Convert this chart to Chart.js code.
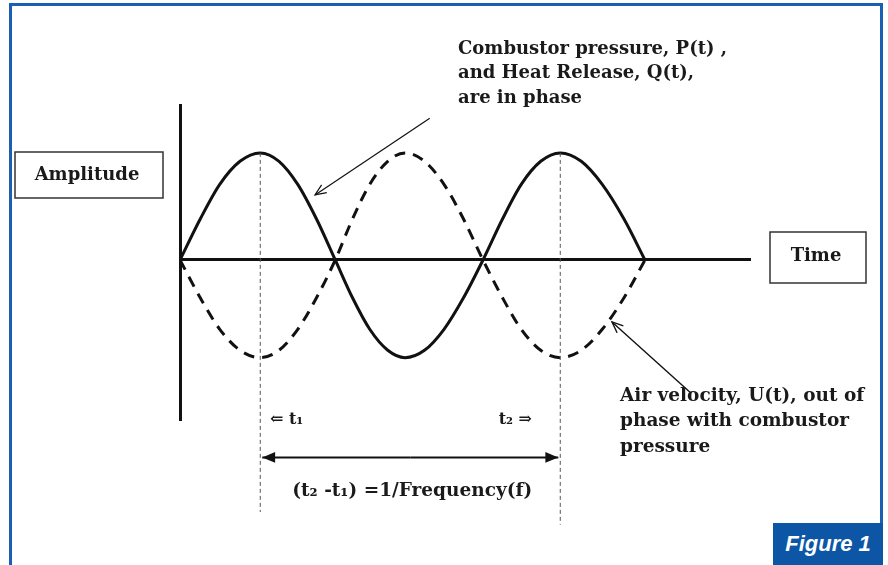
<!DOCTYPE html>
<html>
<head>
<meta charset="utf-8">
<script src="https://cdn.jsdelivr.net/npm/chart.js@4.4.1/dist/chart.umd.min.js"></script>
<style>
    body { margin: 0; background: #fff; }
    #wrap { position: relative; width: 888px; height: 565px; overflow: hidden; }
    #frame {
        position: absolute; left: 9px; top: 3px; width: 868px; height: 580px;
        border: 3px solid #1a5fb4; border-bottom: none;
    }
    #fig {
        position: absolute; left: 773px; top: 523px; width: 110px; height: 42px;
        background: #0d56a6; color: #fff;
        font: italic bold 22px "Liberation Sans", Arial, sans-serif;
        line-height: 42px; text-align: center;
    }
    canvas { position: absolute; left: 0; top: 0; }
</style>
</head>
<body>
<div id="wrap">
    <canvas id="chart" width="888" height="565"></canvas>
    <div id="frame"></div>
    <div id="fig">Figure 1</div>
</div>
<script>
// time in quarter-periods, amplitude normalised
const timeValues = [0, 0.27, 0.53, 0.80, 1.07, 1.32, 1.57, 1.82, 2.07, 2.30, 2.53, 2.77, 3.0,
    3.26, 3.52, 3.78, 4.04, 4.30, 4.55, 4.81, 5.07, 5.35, 5.63, 5.92, 6.2];
const pressureValues = [0, 0.39, 0.72, 0.94, 1.02, 0.94, 0.72, 0.39, 0, -0.36, -0.66, -0.86, -0.93,
    -0.86, -0.66, -0.36, 0, 0.39, 0.72, 0.94, 1.02, 0.94, 0.72, 0.39, 0];
const velocityValues = [0, -0.36, -0.66, -0.86, -0.93, -0.86, -0.66, -0.36, 0, 0.39, 0.72, 0.94, 1.02,
    0.94, 0.72, 0.39, 0, -0.36, -0.66, -0.86, -0.93, -0.86, -0.66, -0.36, 0];
const periodMarks = [1.07, 5.07];   // t1, t2
const seriesLabels = ['Combustor pressure, P(t)', 'Air velocity, U(t)'];
const axisLabels = ['Amplitude', 'Time'];

const SERIF = '"DejaVu Serif", "Liberation Serif", serif';

function toPoints(xs, ys) {
    return xs.map((t, i) => ({ x: t, y: ys[i] }));
}

function arrow(ctx, x1, y1, x2, y2, size, filled) {
    let a = Math.atan2(y2 - y1, x2 - x1);
    ctx.beginPath();
    ctx.moveTo(x1, y1);
    ctx.lineTo(x2, y2);
    ctx.stroke();
    ctx.beginPath();
    ctx.moveTo(x2 - size * Math.cos(a - 0.4), y2 - size * Math.sin(a - 0.4));
    ctx.lineTo(x2, y2);
    ctx.lineTo(x2 - size * Math.cos(a + 0.4), y2 - size * Math.sin(a + 0.4));
    if (filled) {
        ctx.closePath();
        ctx.fill();
    } else {
        ctx.stroke();
    }
}

const annotate = {
    id: 'annotate',
    afterDraw(chart) {
        let ctx = chart.ctx;
        let sx = chart.scales.x, sy = chart.scales.y;
        let px = t => sx.getPixelForValue(t);
        let py = a => sy.getPixelForValue(a);
        ctx.save();

        // dashed period markers
        ctx.strokeStyle = '#555';
        ctx.lineWidth = 1;
        ctx.setLineDash([4, 3]);
        ctx.beginPath();
        ctx.moveTo(px(periodMarks[0]), py(1.02));
        ctx.lineTo(px(periodMarks[0]), py(-2.4));
        ctx.moveTo(px(periodMarks[1]), py(1.02));
        ctx.lineTo(px(periodMarks[1]), py(-2.52));
        ctx.stroke();
        ctx.setLineDash([]);

        // double arrow between t1 and t2
        ctx.strokeStyle = '#111';
        ctx.fillStyle = '#111';
        ctx.lineWidth = 2;
        let ay = py(-1.88);
        let mid = (px(periodMarks[0]) + px(periodMarks[1])) / 2;
        arrow(ctx, mid, ay, px(periodMarks[0]) + 2, ay, 14, true);
        arrow(ctx, mid, ay, px(periodMarks[1]) - 2, ay, 14, true);

        // pointer arrows
        ctx.lineWidth = 1.2;
        arrow(ctx, px(3.33), py(1.35), px(1.8), py(0.62), 12, false);
        ctx.lineWidth = 1.4;
        arrow(ctx, px(6.8), py(-1.26), px(5.76), py(-0.59), 12, false);

        // label boxes
        ctx.strokeStyle = '#333';
        ctx.lineWidth = 1.5;
        ctx.strokeRect(15, 152, 148, 46);
        ctx.strokeRect(770, 232, 96, 51);

        ctx.fillStyle = '#1a1a1a';
        ctx.font = 'bold 18px ' + SERIF;
        ctx.textBaseline = 'middle';
        ctx.textAlign = 'center';
        ctx.fillText(axisLabels[0], 87, 175);
        ctx.fillText(axisLabels[1], 816, 256);

        ctx.textAlign = 'left';
        ctx.font = 'bold 18px ' + SERIF;
        ctx.fillText('Combustor pressure, P(t) ,', 458, 49);
        ctx.fillText('and Heat Release, Q(t),', 458, 73);
        ctx.fillText('are in phase', 458, 98);

        ctx.font = 'bold 18.5px ' + SERIF;
        ctx.fillText('Air velocity, U(t), out of', 620, 396);
        ctx.fillText('phase with combustor', 620, 421);
        ctx.fillText('pressure', 620, 447);

        ctx.font = 'bold 16px ' + SERIF;
        ctx.fillText('\u21D0 t\u2081', 270, 420);
        ctx.textAlign = 'right';
        ctx.fillText('t\u2082 \u21D2', 532, 420);
        ctx.textAlign = 'center';
        ctx.font = 'bold 18.5px ' + SERIF;
        ctx.fillText('(t\u2082 -t\u2081) =1/Frequency(f)', mid + 2, 491);

        ctx.restore();
    }
};

new Chart(document.getElementById('chart'), {
    type: 'line',
    data: {
        datasets: [
            {
                label: seriesLabels[0],
                data: toPoints(timeValues, pressureValues),
                borderColor: '#111',
                borderWidth: 3,
                pointRadius: 0,
                cubicInterpolationMode: 'monotone',
                fill: false
            },
            {
                label: seriesLabels[1],
                data: toPoints(timeValues, velocityValues),
                borderColor: '#111',
                borderWidth: 3,
                borderDash: [11, 8],
                pointRadius: 0,
                cubicInterpolationMode: 'monotone',
                fill: false
            }
        ]
    },
    options: {
        responsive: false,
        animation: false,
        devicePixelRatio: 1,
        layout: { padding: { left: 180, top: 105, right: 138, bottom: 145 } },
        plugins: {
            legend: { display: false },
            tooltip: { enabled: false }
        },
        scales: {
            x: {
                type: 'linear',
                min: 0,
                max: 7.6,
                position: { y: 0 },
                grid: { display: false },
                ticks: { display: false },
                border: { display: true, color: '#111', width: 3 }
            },
            y: {
                type: 'linear',
                min: -1.524,
                max: 1.476,
                position: { x: 0 },
                grid: { display: false },
                ticks: { display: false },
                border: { display: true, color: '#111', width: 3 }
            }
        }
    },
    plugins: [annotate]
});
</script>
</body>
</html>
